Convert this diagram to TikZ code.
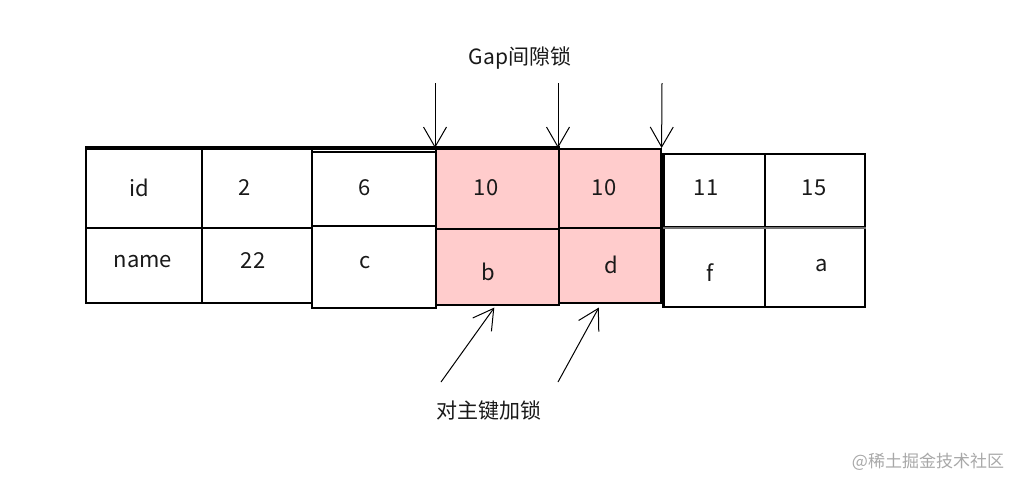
\documentclass[tikz,border=0pt]{standalone}
\usepackage{fontspec}
\setmainfont{Noto Sans CJK SC}
\usetikzlibrary{arrows.meta,calc}
\definecolor{lockpink}{HTML}{FFCCCC}
\definecolor{wmgrey}{HTML}{A8A8A8}
\tikzset{
  cell/.style={draw=black, line width=1.6pt, rectangle, anchor=north west, inner sep=0pt},
  locked/.style={cell, fill=lockpink},
  txt/.style={font=\fontsize{22}{24}\selectfont, inner sep=0pt, text=black!90},
  arr/.style={line width=1pt, -{Straight Barb[length=20pt,width=23pt,line width=1pt]}},
  lbl/.style={font=\fontsize{21}{24}\selectfont, inner sep=0pt, text=black!90},
}
\begin{document}
\begin{tikzpicture}[x=1pt,y=-1pt]
\useasboundingbox (0,0) rectangle (1026,488);
% column 1
\node[cell, minimum width=116pt, minimum height=79pt] (c11) at (85,148) {};
\node[cell, minimum width=116pt, minimum height=75pt] (c12) at (85,227) {};
% column 2
\node[cell, minimum width=110pt, minimum height=79pt] (c21) at (201,148) {};
\node[cell, minimum width=110pt, minimum height=75pt] (c22) at (201,227) {};
% column 3
\node[cell, minimum width=124pt, minimum height=74pt] (c31) at (311,151) {};
\node[cell, minimum width=124pt, minimum height=82pt] (c32) at (311,225) {};
% column 4 (locked)
\node[locked, minimum width=123pt, minimum height=80pt] (c41) at (435,148) {};
\node[locked, minimum width=123pt, minimum height=76pt] (c42) at (435,228) {};
% column 5 (locked)
\node[locked, minimum width=102pt, minimum height=79pt] (c51) at (558,148) {};
\node[locked, minimum width=102pt, minimum height=75pt] (c52) at (558,227) {};
% column 6
\node[cell, minimum width=101pt, minimum height=73pt] (c61) at (663,153) {};
\node[cell, minimum width=101pt, minimum height=80pt] (c62) at (663,226) {};
% column 7
\node[cell, minimum width=100pt, minimum height=73pt] (c71) at (764,153) {};
\node[cell, minimum width=100pt, minimum height=80pt] (c72) at (764,226) {};
% cell texts
\node[txt] (t11) at (139,188) {id};
\node[txt] (t12) at (143,262) {name};
\node[txt] (t21) at (245,188) {2};
\node[txt] (t22) at (253,261) {22};
\node[txt] (t31) at (365,188) {6};
\node[txt] (t32) at (365,263) {c};
\node[txt] (t41) at (486,188) {10};
\node[txt] (t42) at (488,272) {b};
\node[txt] (t51) at (604,188) {10};
\node[txt] (t52) at (611,265) {d};
\node[txt] (t61) at (706,188) {11};
\node[txt] (t62) at (710,273) {f};
\node[txt] (t71) at (814,188) {15};
\node[txt] (t72) at (822,266) {a};
% thicker borders
\draw[line width=3.5pt] (c11.north west) -- (c41.north east);
\draw[line width=3pt] (c61.north west) -- (c62.south west);
\draw[black!55, line width=1.8pt] (c61.south west) -- (c71.south east);
% gap lock label and arrows
\node[lbl] (gap) at (520,58) {Gap间隙锁};
\coordinate (g1) at (435,83);
\coordinate (g2) at (558,83);
\coordinate (g3) at (662,83);
\draw[arr] (g1) -- (c41.north west);
\draw[arr] (g2) -- (c51.north west);
\draw[arr] (g3) -- (c51.north east);
% primary key lock label and arrows
\node[lbl] (pk) at (489,411) {对主键加锁};
\coordinate (k1) at (441,382);
\coordinate (k2) at (558,382);
\draw[arr] (k1) -- ($(c42.south)+(-3,2)$);
\draw[arr] (k2) -- ($(c52.south)+(-11,4)$);
% watermark
\node[font=\fontsize{17}{20}\selectfont, text=wmgrey, inner sep=0pt] (wm) at (928,462) {@稀土掘金技术社区};
\end{tikzpicture}
\end{document}
